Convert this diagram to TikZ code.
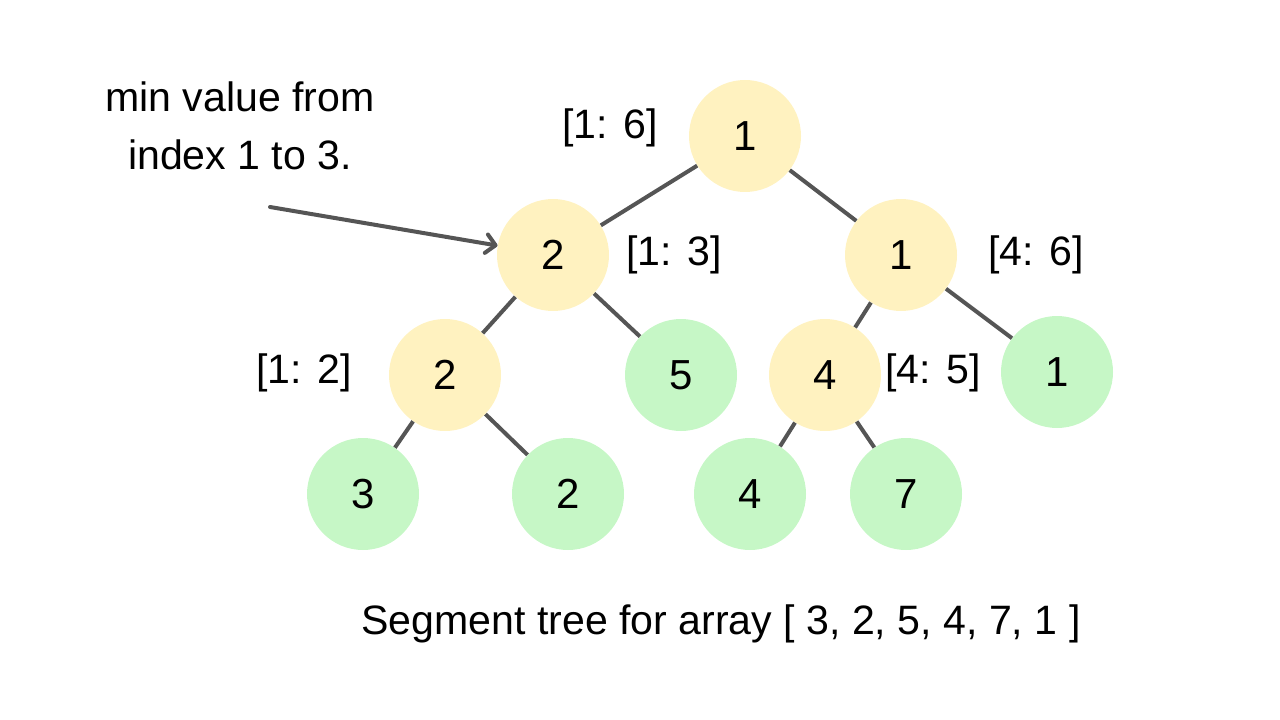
\documentclass[tikz,border=0pt]{standalone}
\usepackage{fontspec}
\setmainfont{Liberation Sans}
\usetikzlibrary{arrows.meta}
\definecolor{inner}{HTML}{FFF2C0}
\definecolor{leaf}{HTML}{C6F7C6}
\definecolor{edgegray}{HTML}{555555}
\begin{document}
\begin{tikzpicture}[x=0.75pt,y=-0.75pt,
  txt/.style={font=\fontsize{30.8}{37}\selectfont, inner sep=0pt},
  ynode/.style={circle, fill=inner, minimum size=84pt, inner sep=0pt, font=\fontsize{31.5}{38}\selectfont},
  gnode/.style={circle, fill=leaf, minimum size=84pt, inner sep=0pt, font=\fontsize{31.5}{38}\selectfont},
  link/.style={draw=edgegray, line width=3pt},
  pointer/.style={draw=edgegray, line width=3pt, line cap=round, -{Straight Barb[length=7pt,width=14pt,round]}}
]
\useasboundingbox (0,0) rectangle (1280,720);
% nodes
\node[ynode] (r)   at (745,136) {1};
\node[ynode] (l)   at (553,255) {2};
\node[ynode] (rr)  at (901,255) {1};
\node[ynode] (ll)  at (445,375) {2};
\node[gnode] (lr)  at (681,375) {5};
\node[ynode] (rl)  at (825,375) {4};
\node[gnode] (rrr) at (1057,372) {1};
\node[gnode] (lll) at (363,494) {3};
\node[gnode] (llr) at (568,494) {2};
\node[gnode] (rll) at (750,494) {4};
\node[gnode] (rlr) at (906,494) {7};
% edges
\draw[link] (r) -- (l);
\draw[link] (r) -- (rr);
\draw[link] (l) -- (ll);
\draw[link] (l) -- (lr);
\draw[link] (rr) -- (rl);
\draw[link] (rr) -- (rrr);
\draw[link] (ll) -- (lll);
\draw[link] (ll) -- (llr);
\draw[link] (rl) -- (rll);
\draw[link] (rl) -- (rlr);
% labels
\node[txt] (t16) at (610,128) {[1: 6]};
\node[txt] (t13) at (674,255) {[1: 3]};
\node[txt] (t46) at (1036,255) {[4: 6]};
\node[txt] (t12) at (304,373) {[1: 2]};
\node[txt] (t45) at (933,373) {[4: 5]};
\node[txt] (note1) at (240,97) {min value from};
\node[txt] (note2) at (240,155) {index 1 to 3.};
\node[txt] (cap) at (721,624) {Segment tree for array [ 3, 2, 5, 4, 7, 1 ]};
% pointer
\coordinate (ps) at (270,207);
\draw[pointer] (ps) -- (l);
\end{tikzpicture}
\end{document}
